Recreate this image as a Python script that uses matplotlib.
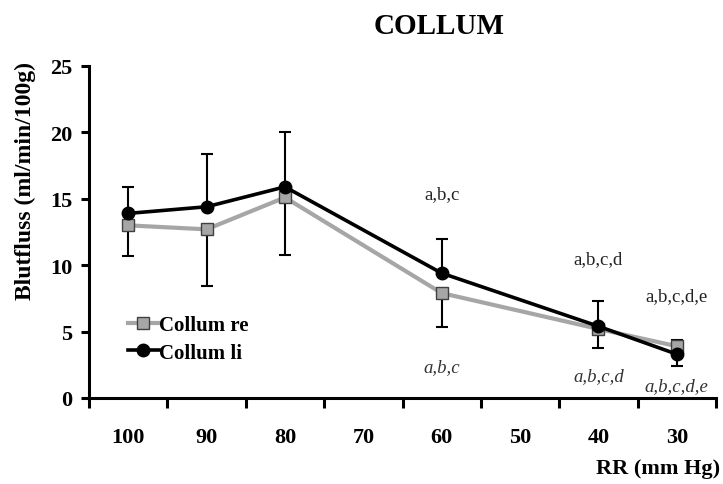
import matplotlib
matplotlib.use("Agg")
import matplotlib.pyplot as plt
import numpy as np

plt.rcParams['font.family'] = ['Liberation Serif', 'DejaVu Serif']

# Blood pressure steps (mm Hg)
rr_levels = ["100", "90", "80", "70", "60", "50", "40", "30"]

# Collum re (grey squares)
re_idx = [0, 1, 2, 4, 6, 7]
re_mean = [13.0, 12.7, 15.1, 7.9, 5.2, 3.9]
re_sd = [2.3, 4.3, 4.3, 2.55, 1.45, 0.5]

# Collum li (black circles)
li_idx = [0, 1, 2, 4, 6, 7]
li_mean = [13.9, 14.4, 15.9, 9.4, 5.4, 3.3]
li_sd = [2.0, 4.0, 4.1, 2.6, 1.9, 0.9]

# Direction of the drawn error bar per point (+1 upward, -1 downward)
re_dir = [-1, -1, -1, -1, -1, +1]
li_dir = [+1, +1, +1, +1, +1, -1]

# Significance letters: (category index, y, text)
sig_upright = [(4, 15.4, "a,b,c"), (6, 10.5, "a,b,c,d"), (7, 7.7, "a,b,c,d,e")]
sig_italic = [(4, 2.4, "a,b,c"), (6, 1.65, "a,b,c,d"), (7, 0.9, "a,b,c,d,e")]

fig = plt.figure(figsize=(7.23, 4.85), dpi=100)
ax = fig.add_axes([89 / 723, 1 - 399 / 485, (716 - 89) / 723, (399 - 67) / 485])


def one_sided_errorbars(idx, mean, sd, direction):
    idx = np.asarray(idx)
    mean = np.asarray(mean, dtype=float)
    sd = np.asarray(sd, dtype=float)
    d = np.asarray(direction)
    lower = np.where(d < 0, sd, 0.0)
    upper = np.where(d > 0, sd, 0.0)
    for sel, err in ((d < 0, [lower, np.zeros_like(lower)]),
                     (d > 0, [np.zeros_like(upper), upper])):
        if sel.any():
            ax.errorbar(idx[sel], mean[sel],
                        yerr=[err[0][sel], err[1][sel]], fmt='none',
                        ecolor='black', elinewidth=1.5, capsize=4,
                        capthick=1.5, zorder=2)


one_sided_errorbars(re_idx, re_mean, re_sd, re_dir)
one_sided_errorbars(li_idx, li_mean, li_sd, li_dir)

ax.plot(re_idx, re_mean, color='#a6a6a6', lw=3.0, marker='s', ms=8.5,
        mfc='#a6a6a6', mec='#404040', mew=1.0, label='Collum re', zorder=3)
ax.plot(li_idx, li_mean, color='black', lw=2.6, marker='o', ms=9,
        mfc='black', mec='black', label='Collum li', zorder=4)

for i, y, t in sig_upright:
    ax.text(i, y, t, ha='center', va='center', fontsize=13.5, color='#222222')
for i, y, t in sig_italic:
    ax.text(i, y, t, ha='center', va='center', fontsize=13.5, color='#333333',
            style='italic')

ax.set_xlim(-0.5, len(rr_levels) - 0.5)
ax.set_ylim(0, 25)
ax.set_yticks([0, 5, 10, 15, 20, 25])
ax.set_xticks(np.arange(len(rr_levels)))
ax.set_xticklabels(rr_levels)
ax.set_xticks(np.arange(len(rr_levels) + 1) - 0.5, minor=True)
ax.tick_params(axis='x', which='major', length=0, pad=21, labelsize=16)
ax.tick_params(axis='x', which='minor', length=7, width=2.2, direction='out')
ax.tick_params(axis='y', length=6, width=2.2, direction='out', pad=6, labelsize=16)
for lab in ax.get_xticklabels() + ax.get_yticklabels():
    lab.set_fontweight('bold')

for s in ['top', 'right']:
    ax.spines[s].set_visible(False)
for s in ['left', 'bottom']:
    ax.spines[s].set_linewidth(2.2)

ax.legend(loc='lower left', bbox_to_anchor=(0.045, 0.075), frameon=False,
          prop={'weight': 'bold', 'size': 15}, handlelength=1.5,
          handletextpad=0.0, labelspacing=0.35, borderpad=0)

fig.text(439 / 723, 1 - 27 / 485, "COLLUM", ha='center', va='center',
         fontsize=21, fontweight='bold')
fig.text(25 / 723, 1 - 181 / 485, "Blutfluss (ml/min/100g)", ha='center',
         va='center', rotation=90, fontsize=17, fontweight='bold')
fig.text(720 / 723, 1 - 469 / 485, "RR (mm Hg)", ha='right', va='center',
         fontsize=16, fontweight='bold')

fig.savefig("out.png", dpi=100)
